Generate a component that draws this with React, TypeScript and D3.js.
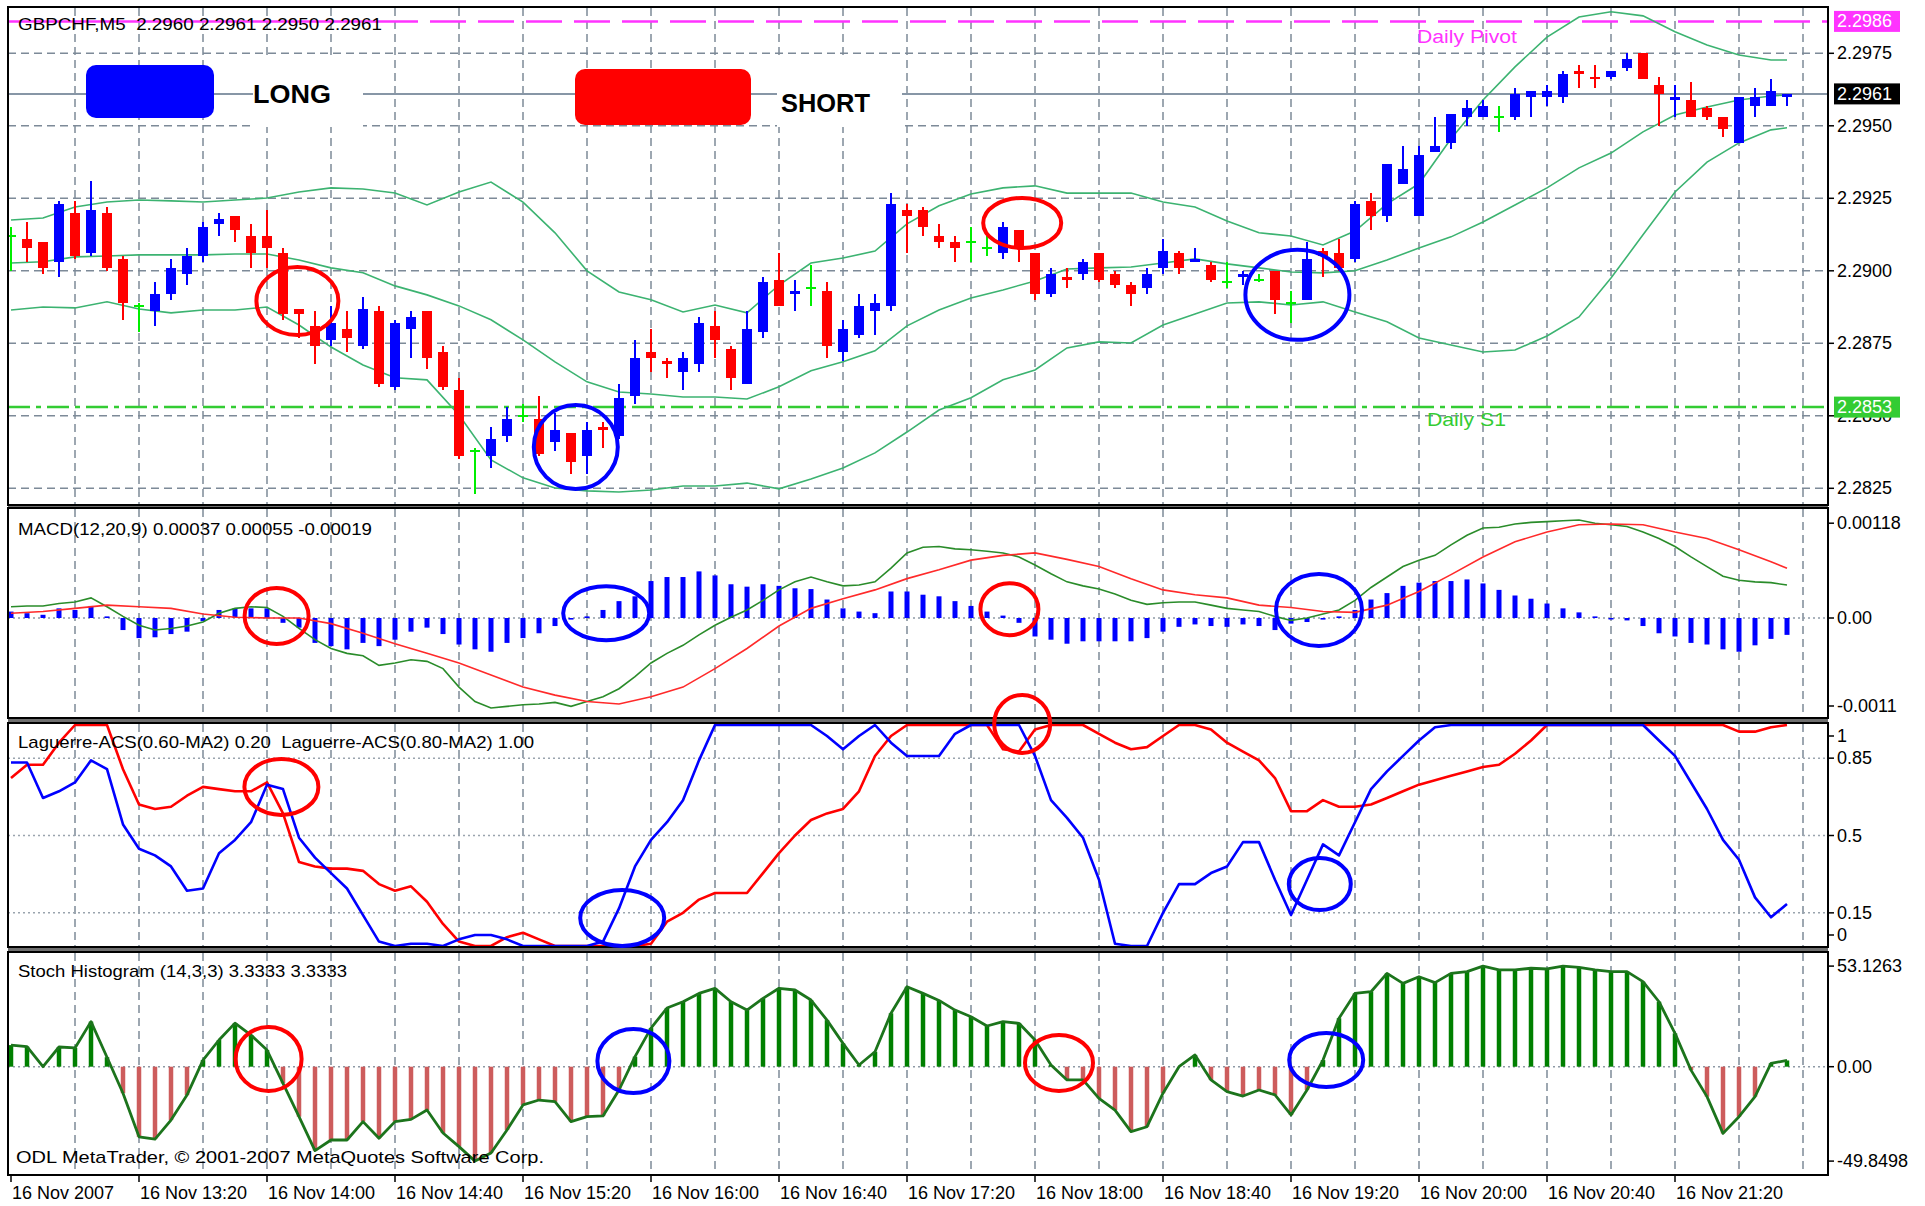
import React, { useEffect } from 'react';
import * as d3 from 'd3';

// GBPCHF M5, 16 Nov 2007, bars 12:40 .. 21:55
const candleOpen = [
  2.2912, 2.2911, 2.2910, 2.2903, 2.2920, 2.2906, 2.2920, 2.2904,
  2.2888, 2.2886, 2.2892, 2.2899, 2.2905, 2.2916, 2.2919, 2.2912,
  2.2912, 2.2906, 2.2887, 2.2881, 2.2876, 2.2880, 2.2874, 2.2886,
  2.2860, 2.2880, 2.2886, 2.2872, 2.2859, 2.2838, 2.2836, 2.2843,
  2.2850, 2.2849, 2.2841, 2.2844, 2.2836, 2.2846, 2.2843, 2.2857,
  2.2872, 2.2869, 2.2865, 2.2868, 2.2881, 2.2873, 2.2861, 2.2879,
  2.2897, 2.2892, 2.2894, 2.2893, 2.2872, 2.2878, 2.2886, 2.2888,
  2.2921, 2.2921, 2.2912, 2.2910, 2.2910, 2.2908, 2.2906, 2.2914,
  2.2906, 2.2892, 2.2898, 2.2899, 2.2906, 2.2899, 2.2895, 2.2894,
  2.2901, 2.2906, 2.2903, 2.2902, 2.2896, 2.2898, 2.2897, 2.2900,
  2.2889, 2.2890, 2.2907, 2.2906, 2.2904, 2.2924, 2.2919, 2.2930,
  2.2919, 2.2941, 2.2944, 2.2953, 2.2953, 2.2953, 2.2953, 2.2960,
  2.2960, 2.2960, 2.2969, 2.2967, 2.2967, 2.2970, 2.2975, 2.2964,
  2.2959, 2.2959, 2.2956, 2.2953, 2.2944, 2.2957, 2.2957, 2.2960,
];
const candleHigh = [
  2.2915, 2.2917, 2.2910, 2.2924, 2.2924, 2.2931, 2.2922, 2.2905,
  2.2889, 2.2896, 2.2904, 2.2908, 2.2917, 2.2920, 2.2919, 2.2916,
  2.2921, 2.2908, 2.2887, 2.2886, 2.2888, 2.2886, 2.2891, 2.2888,
  2.2883, 2.2886, 2.2886, 2.2874, 2.2863, 2.2839, 2.2846, 2.2853,
  2.2854, 2.2857, 2.2851, 2.2844, 2.2848, 2.2848, 2.2861, 2.2876,
  2.2880, 2.2870, 2.2872, 2.2884, 2.2886, 2.2874, 2.2886, 2.2898,
  2.2906, 2.2897, 2.2902, 2.2896, 2.2883, 2.2892, 2.2892, 2.2927,
  2.2923, 2.2922, 2.2916, 2.2912, 2.2915, 2.2912, 2.2917, 2.2914,
  2.2906, 2.2901, 2.2901, 2.2904, 2.2906, 2.2900, 2.2896, 2.2901,
  2.2911, 2.2907, 2.2908, 2.2903, 2.2903, 2.2900, 2.2899, 2.2900,
  2.2893, 2.2910, 2.2908, 2.2911, 2.2924, 2.2927, 2.2937, 2.2943,
  2.2943, 2.2953, 2.2954, 2.2959, 2.2959, 2.2957, 2.2963, 2.2962,
  2.2964, 2.2969, 2.2971, 2.2971, 2.2969, 2.2975, 2.2975, 2.2967,
  2.2964, 2.2965, 2.2957, 2.2953, 2.2960, 2.2963, 2.2966, 2.2961,
];
const candleLow = [
  2.2900, 2.2903, 2.2899, 2.2898, 2.2904, 2.2905, 2.2900, 2.2883,
  2.2879, 2.2881, 2.2890, 2.2895, 2.2903, 2.2912, 2.2910, 2.2901,
  2.2901, 2.2883, 2.2877, 2.2868, 2.2874, 2.2872, 2.2873, 2.2860,
  2.2859, 2.2870, 2.2866, 2.2859, 2.2835, 2.2823, 2.2832, 2.2841,
  2.2848, 2.2836, 2.2838, 2.2830, 2.2830, 2.2839, 2.2842, 2.2854,
  2.2865, 2.2863, 2.2859, 2.2865, 2.2870, 2.2859, 2.2861, 2.2877,
  2.2888, 2.2886, 2.2888, 2.2870, 2.2869, 2.2877, 2.2878, 2.2886,
  2.2906, 2.2912, 2.2908, 2.2903, 2.2903, 2.2905, 2.2904, 2.2903,
  2.2890, 2.2891, 2.2894, 2.2897, 2.2896, 2.2894, 2.2888, 2.2892,
  2.2899, 2.2899, 2.2903, 2.2896, 2.2894, 2.2895, 2.2896, 2.2885,
  2.2882, 2.2890, 2.2898, 2.2900, 2.2903, 2.2914, 2.2917, 2.2930,
  2.2919, 2.2941, 2.2942, 2.2950, 2.2953, 2.2948, 2.2952, 2.2953,
  2.2957, 2.2958, 2.2963, 2.2963, 2.2966, 2.2969, 2.2966, 2.2950,
  2.2953, 2.2953, 2.2952, 2.2946, 2.2944, 2.2953, 2.2957, 2.2957,
];
const candleClose = [
  2.2912, 2.2908, 2.2901, 2.2923, 2.2905, 2.2921, 2.2901, 2.2889,
  2.2888, 2.2892, 2.2901, 2.2905, 2.2915, 2.2918, 2.2914, 2.2906,
  2.2908, 2.2885, 2.2885, 2.2874, 2.2882, 2.2877, 2.2887, 2.2861,
  2.2882, 2.2884, 2.2870, 2.2860, 2.2836, 2.2838, 2.2842, 2.2849,
  2.2850, 2.2837, 2.2845, 2.2834, 2.2845, 2.2845, 2.2856, 2.2870,
  2.2870, 2.2868, 2.2870, 2.2882, 2.2876, 2.2863, 2.2880, 2.2896,
  2.2888, 2.2893, 2.2894, 2.2874, 2.2880, 2.2888, 2.2889, 2.2923,
  2.2919, 2.2915, 2.2910, 2.2908, 2.2910, 2.2908, 2.2915, 2.2908,
  2.2892, 2.2899, 2.2897, 2.2903, 2.2897, 2.2895, 2.2892, 2.2899,
  2.2907, 2.2901, 2.2904, 2.2897, 2.2896, 2.2899, 2.2897, 2.2890,
  2.2889, 2.2904, 2.2905, 2.2901, 2.2923, 2.2919, 2.2937, 2.2935,
  2.2940, 2.2943, 2.2954, 2.2956, 2.2957, 2.2953, 2.2961, 2.2962,
  2.2962, 2.2968, 2.2968, 2.2966, 2.2969, 2.2973, 2.2966, 2.2961,
  2.2960, 2.2953, 2.2953, 2.2949, 2.2960, 2.2960, 2.2962, 2.2961,
];

// Bollinger bands, read every second bar
const bbBars = [
  0, 2, 4, 6, 8, 10, 12, 14, 16, 18, 20, 22, 24, 26, 28, 30, 32, 34, 36, 38,
  40, 42, 44, 46, 48, 50, 52, 54, 56, 58, 60, 62, 64, 66, 68, 70, 72, 74, 76, 78,
  80, 82, 84, 86, 88, 90, 92, 94, 96, 98, 100, 102, 104, 106, 108, 110, 111,
];
const bbUpper = [
  2.29175, 2.29182, 2.2922, 2.29237, 2.29244, 2.29241, 2.29237, 2.29244, 2.29251, 2.29272,
  2.29286, 2.29282, 2.29268, 2.29227, 2.29272, 2.29306, 2.29237, 2.29131, 2.29, 2.28927,
  2.289, 2.28858, 2.28882, 2.28855, 2.28951, 2.29027, 2.29044, 2.29068, 2.29162, 2.29224,
  2.29265, 2.29286, 2.29293, 2.29268, 2.29268, 2.29268, 2.29237, 2.2922, 2.29172, 2.29131,
  2.2912, 2.29089, 2.29137, 2.29231, 2.293, 2.29455, 2.29589, 2.29703, 2.29806, 2.29875,
  2.29893, 2.29879, 2.29824, 2.29779, 2.29744, 2.29727, 2.29727,
];
const bbMiddle = [
  2.29027, 2.29031, 2.29048, 2.29051, 2.29055, 2.29055, 2.29055, 2.29058, 2.29058, 2.29037,
  2.2901, 2.28993, 2.28948, 2.28917, 2.28879, 2.28831, 2.28762, 2.28686, 2.28617, 2.28582,
  2.28575, 2.28565, 2.28565, 2.28558, 2.286, 2.28655, 2.28686, 2.28724, 2.2881, 2.28865,
  2.28906, 2.28934, 2.28965, 2.29006, 2.2901, 2.29013, 2.29027, 2.29041, 2.29024, 2.2901,
  2.28996, 2.28993, 2.29, 2.29037, 2.29079, 2.29117, 2.29168, 2.29227, 2.29286, 2.29355,
  2.29406, 2.29479, 2.29537, 2.29565, 2.29589, 2.29603, 2.29606,
];
const bbLower = [
  2.28865, 2.28875, 2.28872, 2.28893, 2.28868, 2.28855, 2.28865, 2.28865, 2.28875, 2.28813,
  2.28737, 2.28675, 2.28631, 2.28624, 2.28503, 2.28348, 2.28286, 2.28251, 2.28241, 2.28237,
  2.28244, 2.28258, 2.28258, 2.28268, 2.28248, 2.28282, 2.2832, 2.28372, 2.28444, 2.2852,
  2.28562, 2.28624, 2.28658, 2.28734, 2.28755, 2.28751, 2.28813, 2.28851, 2.28889, 2.28893,
  2.28882, 2.28893, 2.28858, 2.28824, 2.28768, 2.28744, 2.2872, 2.28727, 2.28775, 2.28841,
  2.28975, 2.29124, 2.29272, 2.29375, 2.29441, 2.29486, 2.29493,
];

// MACD(12,20,9)
const macdHist = [
  0.00008, 0.00006, 0.00004, 0.00012, 0.0001, 0.00015, 0.00002, -0.00015,
  -0.00025, -0.00024, -0.0002, -0.00017, -0.00004, 0.0001, 0.00012, 0.00012,
  0.00012, -0.00006, -0.00012, -0.00031, -0.00035, -0.00039, -0.00031, -0.00035,
  -0.00027, -0.00017, -0.00012, -0.0002, -0.00033, -0.00039, -0.00042, -0.00031,
  -0.00025, -0.00019, -0.0001, -0.00002, 0.00002, 0.0001, 0.00021, 0.00027,
  0.00046, 0.00051, 0.00051, 0.00058, 0.00053, 0.00042, 0.00039, 0.00042,
  0.0004, 0.00037, 0.00036, 0.00023, 0.00012, 0.00008, 0.00006, 0.00033,
  0.00033, 0.00029, 0.00027, 0.00021, 0.00015, 0.00008, 0.00003, -0.00006,
  -0.00023, -0.00027, -0.00032, -0.00029, -0.00029, -0.00029, -0.00029, -0.00025,
  -0.00017, -0.00011, -0.00008, -0.0001, -0.00011, -0.00008, -0.0001, -0.00015,
  -0.00007, -0.00005, -0.00002, 0.00002, 0.0001, 0.00023, 0.00031, 0.0004,
  0.00044, 0.00046, 0.00046, 0.00048, 0.00043, 0.00035, 0.00028, 0.00024,
  0.00018, 0.00012, 0.00007, 0.00002, -0.00001, -0.00003, -0.0001, -0.00019,
  -0.00023, -0.00031, -0.00033, -0.00039, -0.00042, -0.00034, -0.00026, -0.00021,
];
const macdMain = [
  0.00014, 0.00015, 0.00015, 0.00018, 0.0002, 0.00025, 0.00014, 0.00002,
  -0.00009, -0.00015, -0.00013, -0.0001, -0.00005, 0.00006, 0.00012, 0.00014,
  0.00013, 0.00002, -0.00013, -0.00027, -0.00038, -0.00044, -0.00047, -0.00059,
  -0.00056, -0.00052, -0.00054, -0.00063, -0.00086, -0.00104, -0.00112, -0.0011,
  -0.00108, -0.00107, -0.00105, -0.0011, -0.00104, -0.00098, -0.00088, -0.00073,
  -0.00056, -0.00044, -0.00034, -0.00021, -0.00009, 0.00001, 0.0001, 0.00022,
  0.00035, 0.00045, 0.00051, 0.00045, 0.0004, 0.00041, 0.00045, 0.00062,
  0.00081, 0.00088, 0.00089, 0.00086, 0.00085, 0.00083, 0.00081, 0.00076,
  0.00066, 0.00055, 0.00045, 0.0004, 0.00036, 0.0003, 0.00022, 0.00017,
  0.00019, 0.0002, 0.0002, 0.00016, 0.00012, 0.0001, 0.00008, 0.00002,
  -0.00003, 0.0, 0.00005, 0.0001, 0.00022, 0.00038, 0.00051, 0.00064,
  0.00072, 0.00078, 0.00091, 0.00103, 0.00112, 0.00113, 0.00117, 0.00119,
  0.0012, 0.00121, 0.00122, 0.00118, 0.00116, 0.00114, 0.00107, 0.00099,
  0.00089, 0.00076, 0.00064, 0.00052, 0.00047, 0.00045, 0.00044, 0.00041,
];
const macdSignal = [
  0.00006, 0.00008, 0.00012, 0.00016, 0.00014, 0.00012, 0.00005, 0.00001, 0.0, 0.0,
  -0.00007, -0.00019, -0.00032, -0.00044, -0.00056, -0.00071, -0.00086, -0.00096, -0.00104, -0.00107,
  -0.00098, -0.00086, -0.00063, -0.00038, -0.0001, 0.00012, 0.00024, 0.00035, 0.00049, 0.0006,
  0.00072, 0.00078, 0.00081, 0.00073, 0.00064, 0.00049, 0.00035, 0.00029, 0.00025, 0.00016,
  0.00013, 0.00008, 0.00007, 0.00016, 0.00033, 0.00054, 0.00076, 0.00095, 0.00107, 0.00116,
  0.00117, 0.00116, 0.00107, 0.00099, 0.00085, 0.0007, 0.00062,
];

// Laguerre-ACS 0.60 (blue) and 0.80 (red)
const lagFast = [
  0.83, 0.83, 0.67, 0.7, 0.74, 0.84, 0.8, 0.55,
  0.44, 0.41, 0.36, 0.25, 0.26, 0.42, 0.48, 0.56,
  0.73, 0.71, 0.49, 0.4, 0.33, 0.26, 0.14, 0.02,
  0.0, 0.01, 0.01, 0.0, 0.03, 0.05, 0.05, 0.03,
  0.0, 0.0, 0.0, 0.0, 0.0, 0.02, 0.17, 0.36,
  0.48, 0.56, 0.66, 0.84, 1.0, 1.0, 1.0, 1.0,
  1.0, 1.0, 1.0, 0.95, 0.89, 0.95, 1.0, 0.92,
  0.86, 0.86, 0.86, 0.96, 1.0, 1.0, 1.0, 1.0,
  0.86, 0.66, 0.58, 0.49, 0.3, 0.01, 0.0, 0.0,
  0.15, 0.28, 0.28, 0.33, 0.36, 0.47, 0.47, 0.3,
  0.14, 0.3, 0.46, 0.41, 0.56, 0.71, 0.79, 0.86,
  0.93, 0.99, 1.0, 1.0, 1.0, 1.0, 1.0, 1.0,
  1.0, 1.0, 1.0, 1.0, 1.0, 1.0, 1.0, 0.93,
  0.86, 0.74, 0.62, 0.48, 0.39, 0.22, 0.13, 0.19,
];
const lagSlow = [
  0.76, 0.82, 0.82, 0.92, 1.0, 1.0, 1.0, 0.8,
  0.64, 0.62, 0.63, 0.68, 0.72, 0.71, 0.7, 0.7,
  0.74, 0.6, 0.38, 0.36, 0.35, 0.35, 0.34, 0.28,
  0.25, 0.27, 0.2, 0.1, 0.02, 0.0, 0.0, 0.04,
  0.06, 0.03, 0.0, 0.0, 0.0, 0.0, 0.0, 0.0,
  0.01, 0.11, 0.15, 0.21, 0.24, 0.24, 0.24, 0.33,
  0.42, 0.5, 0.57, 0.6, 0.62, 0.7, 0.86, 0.95,
  1.0, 1.0, 1.0, 1.0, 1.0, 1.0, 0.89, 0.88,
  0.98, 1.0, 1.0, 1.0, 0.96, 0.92, 0.89, 0.9,
  0.95, 1.0, 1.0, 0.98, 0.92, 0.88, 0.84, 0.76,
  0.61, 0.61, 0.66, 0.63, 0.63, 0.64, 0.67, 0.7,
  0.73, 0.75, 0.77, 0.79, 0.81, 0.82, 0.87, 0.93,
  1.0, 1.0, 1.0, 1.0, 1.0, 1.0, 1.0, 1.0,
  1.0, 1.0, 1.0, 1.0, 0.97, 0.97, 0.99, 1.0,
];

// Stoch Histogram (14,3,3)
const stochHist = [
  11.4, 10.6, 0.0, 10.4, 9.9, 23.8, 5.0, -14.0,
  -37.0, -38.2, -28.2, -15.0, 3.5, 14.1, 23.0, 16.7,
  8.8, -8.8, -26.4, -44.3, -38.7, -38.7, -29.0, -37.8,
  -29.0, -27.8, -22.9, -35.0, -42.2, -49.85, -45.6, -33.4,
  -20.2, -17.6, -18.5, -29.0, -26.4, -26.0, -12.3, 5.3,
  20.4, 31.0, 34.3, 38.7, 41.4, 34.3, 29.9, 36.1,
  41.4, 40.5, 35.2, 24.6, 12.3, 0.9, 7.9, 28.2,
  42.2, 38.7, 35.0, 29.9, 26.4, 21.5, 23.8, 22.9,
  14.1, 0.9, -7.0, -7.0, -16.7, -22.9, -34.3, -31.7,
  -14.0, 0.0, 6.2, -7.0, -13.2, -15.5, -12.3, -14.9,
  -25.5, -12.3, 3.5, 25.6, 38.7, 39.6, 49.3, 44.0,
  47.5, 44.4, 49.3, 50.2, 53.13, 51.1, 51.1, 52.0,
  51.6, 53.13, 52.5, 51.1, 50.2, 50.2, 44.9, 34.3,
  17.6, -1.8, -15.8, -35.2, -26.4, -15.8, 1.8, 3.3,
];

const priceTicks = [2.2825, 2.285, 2.2875, 2.29, 2.2925, 2.295, 2.2975];
const macdTicks = [0.00118, 0, -0.0011];
const macdTickText = ['0.00118', '0.00', '-0.0011'];
const lagTicks = [1, 0.85, 0.5, 0.15, 0];
const lagLevels = [0.85, 0.5, 0.15];
const stochTicks = [53.1263, 0, -49.8498];
const stochTickText = ['53.1263', '0.00', '-49.8498'];
const timeLabels = [
  '16 Nov 2007', '16 Nov 13:20', '16 Nov 14:00', '16 Nov 14:40', '16 Nov 15:20',
  '16 Nov 16:00', '16 Nov 16:40', '16 Nov 17:20', '16 Nov 18:00', '16 Nov 18:40',
  '16 Nov 19:20', '16 Nov 20:00', '16 Nov 20:40', '16 Nov 21:20',
];
const pivotLevel = 2.2986;
const s1Level = 2.2853;
const bidPrice = 2.2961;

// hand drawn circles (bar position, value in that panel)
const marks = [
  { panel: 'main', bar: 17.9, value: 2.28896, rx: 41, ry: 34, color: '#ff0000' },
  { panel: 'main', bar: 35.3, value: 2.28392, rx: 42, ry: 42, color: '#0000ff' },
  { panel: 'main', bar: 63.2, value: 2.29165, rx: 39, ry: 25, color: '#ff0000' },
  { panel: 'main', bar: 80.4, value: 2.28917, rx: 52, ry: 45, color: '#0000ff' },
  { panel: 'macd', bar: 16.6, value: 0.000025, rx: 32, ry: 28, color: '#ff0000' },
  { panel: 'macd', bar: 37.2, value: 0.00006, rx: 43, ry: 27, color: '#0000ff' },
  { panel: 'macd', bar: 62.4, value: 0.00011, rx: 29, ry: 26, color: '#ff0000' },
  { panel: 'macd', bar: 81.75, value: 0.0001, rx: 43, ry: 36, color: '#0000ff' },
  { panel: 'lag', bar: 16.9, value: 0.72, rx: 37, ry: 28, color: '#ff0000' },
  { panel: 'lag', bar: 38.2, value: 0.127, rx: 42, ry: 28, color: '#0000ff' },
  { panel: 'lag', bar: 63.2, value: 1.005, rx: 28, ry: 29, color: '#ff0000' },
  { panel: 'lag', bar: 81.8, value: 0.28, rx: 31, ry: 26, color: '#0000ff' },
  { panel: 'stoch', bar: 16.1, value: 4.1, rx: 33, ry: 32, color: '#ff0000' },
  { panel: 'stoch', bar: 38.9, value: 3.0, rx: 36, ry: 32, color: '#0000ff' },
  { panel: 'stoch', bar: 65.5, value: 2.0, rx: 34, ry: 28, color: '#ff0000' },
  { panel: 'stoch', bar: 82.2, value: 3.5, rx: 37, ry: 27, color: '#0000ff' },
];

const W = 1925;
const H = 1206;
const LEFT = 8;
const RIGHT = 1828;
const PANELS: Record<string, [number, number]> = {
  main: [7, 505],
  macd: [508, 718],
  lag: [723, 947],
  stoch: [952, 1175],
};
const FONT = "'Liberation Sans', Arial, Helvetica, sans-serif";
const GRID = '#7d8a98';
const LEVEL = '#8e9aa6';
const BLUE = '#0000ff';
const RED = '#ff0000';
const DOJI = '#00ee00';
const BB = '#3cb371';
const NBSP = '\u00a0';

const allBars = d3.range(candleClose.length);
const x = d3.scaleLinear().domain([0, 111]).range([11, 1787]);
const yMain = d3.scaleLinear().domain([2.2825, 2.2975]).range([488.3, 53.3]);
const yMacd = d3.scaleLinear().domain([0, 0.00118]).range([618, 523.2]);
const yLag = d3.scaleLinear().domain([0, 1]).range([946, 725]);
const yStoch = d3.scaleLinear().domain([0, 53.1263]).range([1066.7, 966.1]);
const scales: Record<string, d3.ScaleLinear<number, number>> = {
  main: yMain, macd: yMacd, lag: yLag, stoch: yStoch,
};

function path(bars: number[], vals: number[], y: (v: number) => number) {
  return d3.line<number>().x((_, i) => x(bars[i])).y(v => y(v))(vals) || '';
}

function AxisText({ y, text, panel }: { y: number; text: string; panel: string }) {
  const [top, bottom] = PANELS[panel];
  const ty = Math.max(top + 13, Math.min(bottom - 12, y));
  return (
    <g>
      <line x1={RIGHT} x2={RIGHT + 6} y1={ty} y2={ty} stroke="#000" strokeWidth={1.5} />
      <text x={1837} y={ty + 6} fontSize={18}>{text}</text>
    </g>
  );
}

function PriceBox({ y, text, fill }: { y: number; text: string; fill: string }) {
  return (
    <g>
      <rect x={1834} y={y - 10.5} width={66} height={21} fill={fill} />
      <text x={1837} y={y + 6} fontSize={18} fill="#fff">{text}</text>
    </g>
  );
}

export default function App() {
  useEffect(() => {
    document.body.style.margin = '0';
  }, []);

  const gridBars = d3.range(4, 113, 4);
  const panelKeys = Object.keys(PANELS);

  return (
    <svg width={W} height={H} fontFamily={FONT}
      style={{ position: 'absolute', left: 0, top: 0, background: '#fff' }}>
      <defs>
        {panelKeys.map(k => (
          <clipPath id={'clip-' + k} key={k}>
            <rect x={LEFT} y={PANELS[k][0]} width={RIGHT - LEFT} height={PANELS[k][1] - PANELS[k][0]} />
          </clipPath>
        ))}
      </defs>
      <rect x={0} y={0} width={W} height={H} fill="#fff" />
      {/* separators between windows */}
      <rect x={LEFT} y={PANELS.main[0]} width={RIGHT - LEFT} height={PANELS.stoch[1] - PANELS.main[0]} fill="#6f6f6f" />
      {panelKeys.map(k => (
        <rect key={k} x={LEFT} y={PANELS[k][0]} width={RIGHT - LEFT}
          height={PANELS[k][1] - PANELS[k][0]} fill="#fff" />
      ))}

      {/* vertical grid */}
      {panelKeys.map(k => (
        <g key={k}>
          {gridBars.map(b => (
            <line key={b} x1={x(b)} x2={x(b)} y1={PANELS[k][0] + 1} y2={PANELS[k][1] - 1}
              stroke={GRID} strokeWidth={1.5} strokeDasharray="8 5" />
          ))}
        </g>
      ))}
      {/* horizontal price grid */}
      {priceTicks.map(p => (
        <line key={p} x1={LEFT} x2={RIGHT} y1={yMain(p)} y2={yMain(p)}
          stroke={GRID} strokeWidth={1.5} strokeDasharray="8 5" />
      ))}

      {/* bid line */}
      <line x1={LEFT} x2={RIGHT} y1={yMain(bidPrice)} y2={yMain(bidPrice)} stroke="#8796a6" strokeWidth={2} />

      {/* LONG / SHORT legend objects */}
      <rect x={253} y={57} width={110} height={70} fill="#fff" />
      <rect x={777} y={57} width={125} height={70} fill="#fff" />
      <rect x={86} y={65} width={128} height={53} rx={10} fill={BLUE} />
      <text x={253} y={103} fontSize={26} fontWeight="bold" textLength={78} lengthAdjust="spacingAndGlyphs">LONG</text>
      <rect x={575} y={69} width={176} height={56} rx={10} fill={RED} />
      <text x={781} y={112} fontSize={26} fontWeight="bold" textLength={89} lengthAdjust="spacingAndGlyphs">SHORT</text>

      {/* pivot and S1 */}
      <line x1={LEFT} x2={382} y1={yMain(pivotLevel)} y2={yMain(pivotLevel)} stroke="#ff33ff" strokeWidth={2.5} />
      <line x1={382} x2={RIGHT} y1={yMain(pivotLevel)} y2={yMain(pivotLevel)} stroke="#ff33ff"
        strokeWidth={2.5} strokeDasharray="36 12" />
      <line x1={LEFT} x2={RIGHT} y1={yMain(s1Level)} y2={yMain(s1Level)} stroke="#33cc33"
        strokeWidth={2.5} strokeDasharray="22 6 5 6" />
      <text x={1417} y={43} fontSize={18} fill="#ff33ff" textLength={100} lengthAdjust="spacingAndGlyphs">Daily Pivot</text>
      <text x={1427} y={426} fontSize={18} fill="#33cc33" textLength={79} lengthAdjust="spacingAndGlyphs">Daily S1</text>

      {/* Bollinger bands */}
      <g clipPath="url(#clip-main)" fill="none" stroke={BB} strokeWidth={1.6}>
        <path d={path(bbBars, bbUpper, yMain)} />
        <path d={path(bbBars, bbMiddle, yMain)} />
        <path d={path(bbBars, bbLower, yMain)} />
      </g>

      {/* candles */}
      <g clipPath="url(#clip-main)" shapeRendering="crispEdges">
        {allBars.map(i => {
          const o = candleOpen[i];
          const c = candleClose[i];
          const col = c > o ? BLUE : c < o ? RED : DOJI;
          const cx = x(i);
          const top = yMain(Math.max(o, c));
          const bot = yMain(Math.min(o, c));
          return (
            <g key={i}>
              <line x1={cx} x2={cx} y1={yMain(candleHigh[i])} y2={yMain(candleLow[i])} stroke={col} strokeWidth={2} />
              {c === o ? (
                <line x1={cx - 5} x2={cx + 5} y1={top} y2={top} stroke={col} strokeWidth={2} />
              ) : (
                <rect x={cx - 5} y={top} width={10} height={Math.max(2, bot - top)} fill={col} />
              )}
            </g>
          );
        })}
      </g>

      {/* MACD */}
      <line x1={LEFT} x2={RIGHT} y1={yMacd(0)} y2={yMacd(0)} stroke={LEVEL} strokeWidth={1.5} strokeDasharray="2 3" />
      <g clipPath="url(#clip-macd)">
        {allBars.map(i => (
          <rect key={i} x={x(i) - 2.5} width={5}
            y={Math.min(yMacd(0), yMacd(macdHist[i]))}
            height={Math.max(1.5, Math.abs(yMacd(macdHist[i]) - yMacd(0)))} fill={BLUE} />
        ))}
        <path d={path(allBars, macdMain, yMacd)} fill="none" stroke="#2a8c2a" strokeWidth={1.6} />
        <path d={path(bbBars, macdSignal, yMacd)} fill="none" stroke="#ff2a2a" strokeWidth={1.6} />
      </g>

      {/* Laguerre */}
      {lagLevels.map(l => (
        <line key={l} x1={LEFT} x2={RIGHT} y1={yLag(l)} y2={yLag(l)} stroke="#9aa4ae" strokeWidth={1.5} strokeDasharray="2 3" />
      ))}
      <g clipPath="url(#clip-lag)" fill="none" strokeWidth={2.6} strokeLinejoin="round">
        <path d={path(allBars, lagSlow, yLag)} stroke={RED} />
        <path d={path(allBars, lagFast, yLag)} stroke={BLUE} />
      </g>

      {/* Stoch histogram */}
      <line x1={LEFT} x2={RIGHT} y1={yStoch(0)} y2={yStoch(0)} stroke={LEVEL} strokeWidth={1.5} strokeDasharray="2 3" />
      <g clipPath="url(#clip-stoch)">
        {allBars.map(i => (
          <rect key={i} x={x(i) - 2.25} width={4.5}
            y={Math.min(yStoch(0), yStoch(stochHist[i]))}
            height={Math.abs(yStoch(stochHist[i]) - yStoch(0))}
            fill={stochHist[i] >= 0 ? '#008000' : '#cd5c5c'} />
        ))}
        <path d={path(allBars, stochHist, yStoch)} fill="none" stroke="#1c741c" strokeWidth={2.8} strokeLinejoin="round" />
      </g>

      {/* panel frames */}
      {panelKeys.map(k => (
        <rect key={k} x={LEFT} y={PANELS[k][0]} width={RIGHT - LEFT}
          height={PANELS[k][1] - PANELS[k][0]} fill="none" stroke="#000" strokeWidth={2} />
      ))}

      {/* circles */}
      <g fill="none" strokeWidth={4}>
        {marks.map((m, i) => (
          <ellipse key={i} cx={x(m.bar)} cy={scales[m.panel](m.value)} rx={m.rx} ry={m.ry} stroke={m.color} />
        ))}
      </g>

      {/* window titles */}
      <text x={18} y={30} fontSize={17} textLength={364} lengthAdjust="spacingAndGlyphs">{'GBPCHF,M5' + NBSP + NBSP + '2.2960 2.2961 2.2950 2.2961'}</text>
      <text x={18} y={535} fontSize={17} textLength={354} lengthAdjust="spacingAndGlyphs">MACD(12,20,9) 0.00037 0.00055 -0.00019</text>
      <text x={18} y={748} fontSize={17} textLength={516} lengthAdjust="spacingAndGlyphs">{'Laguerre-ACS(0.60-MA2) 0.20' + NBSP + NBSP + 'Laguerre-ACS(0.80-MA2) 1.00'}</text>
      <text x={18} y={977} fontSize={17} textLength={329} lengthAdjust="spacingAndGlyphs">Stoch Histogram (14,3,3) 3.3333 3.3333</text>
      <text x={16} y={1163} fontSize={17} textLength={528} lengthAdjust="spacingAndGlyphs">ODL MetaTrader, © 2001-2007 MetaQuotes Software Corp.</text>

      {/* right axes */}
      {priceTicks.map(p => (
        <AxisText key={p} panel="main" y={yMain(p)} text={p.toFixed(4)} />
      ))}
      <PriceBox y={yMain(pivotLevel)} text={pivotLevel.toFixed(4)} fill="#ff33ff" />
      <PriceBox y={yMain(bidPrice)} text={bidPrice.toFixed(4)} fill="#000" />
      <PriceBox y={yMain(s1Level)} text={s1Level.toFixed(4)} fill="#33cc33" />
      {macdTicks.map((v, i) => (
        <AxisText key={i} panel="macd" y={yMacd(v)} text={macdTickText[i]} />
      ))}
      {lagTicks.map(v => (
        <AxisText key={v} panel="lag" y={yLag(v)} text={String(v)} />
      ))}
      {stochTicks.map((v, i) => (
        <AxisText key={i} panel="stoch" y={yStoch(v)} text={stochTickText[i]} />
      ))}

      {/* time axis */}
      {timeLabels.map((t, i) => (
        <g key={t}>
          <line x1={x(i * 8)} x2={x(i * 8)} y1={PANELS.stoch[1]} y2={PANELS.stoch[1] + 7} stroke="#000" strokeWidth={1.5} />
          <text x={x(i * 8) + 1} y={1199} fontSize={18}>{t}</text>
        </g>
      ))}
    </svg>
  );
}
